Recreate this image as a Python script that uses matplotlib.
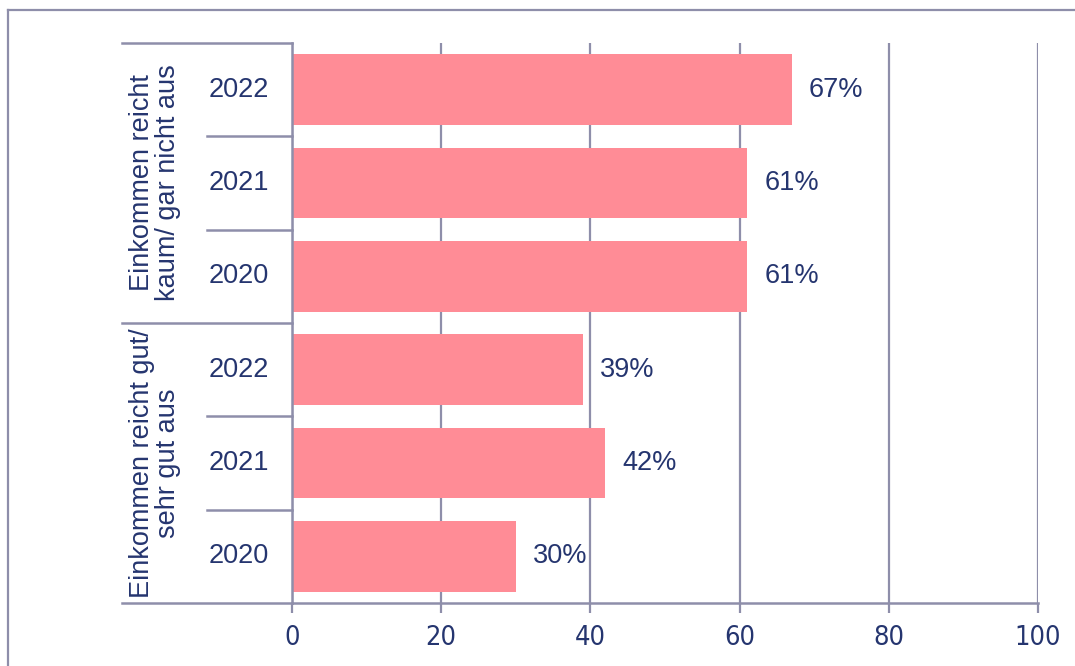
import matplotlib.pyplot as plt
from matplotlib import font_manager
from matplotlib.lines import Line2D

# data, top to bottom
groups = ["Einkommen reicht\nkaum/ gar nicht aus", "Einkommen reicht gut/\nsehr gut aus"]
years = ["2022", "2021", "2020", "2022", "2021", "2020"]
values = [67, 61, 61, 39, 42, 30]
ticks = [0, 20, 40, 60, 80, 100]

bar_col = "#FF8C96"
txt_col = "#25356F"
line_col = "#8E8EAA"

# a condensed face for the axis numbers, if one is installed
narrow = None
for f in font_manager.fontManager.ttflist:
    if "Narrow" in f.name or "Condensed" in f.name or f.stretch in ("condensed", "semi-condensed"):
        narrow = f
        break
if narrow is not None:
    tick_font = dict(family=narrow.name, stretch=narrow.stretch, fontsize=19.5)
else:
    tick_font = dict(family="Liberation Sans", fontsize=17)

plt.rcParams["font.family"] = ["Liberation Sans", "DejaVu Sans"]
fs = 19.5

fig = plt.figure(figsize=(10.75, 6.66), dpi=100)
ax = fig.add_axes([292 / 1075, 1 - 603 / 666, 746 / 1075, 560 / 666])

pos = list(range(len(values)))
ax.barh(pos, values, height=0.76, color=bar_col, zorder=3)
for p, v in zip(pos, values):
    ax.text(v + 2.3, p, f"{v}%", va="center", ha="left", fontsize=fs, color=txt_col, zorder=4)

ax.set_xlim(0, 100)
ax.set_ylim(5.5, -0.5)
ax.set_xticks(ticks)
ax.set_xticklabels([str(t) for t in ticks], color=txt_col, **tick_font)
ax.set_yticks([])
ax.tick_params(axis="x", length=7, width=1.6, color=line_col, pad=9)
ax.grid(axis="x", color=line_col, linewidth=1.6, zorder=0)
for s in ["top", "right"]:
    ax.spines[s].set_visible(False)
for s in ["left", "bottom"]:
    ax.spines[s].set_color(line_col)
    ax.spines[s].set_linewidth(1.8)
    ax.spines[s].set_zorder(5)

# category table on the left
tr = ax.get_yaxis_transform()
x_grp, x_yr = (122 - 292) / 746, (207 - 292) / 746
for i in range(len(years) + 1):
    y = i - 0.5
    x0 = x_grp if i % 3 == 0 else x_yr
    ax.add_line(Line2D([x0, 0], [y, y], transform=tr, color=line_col, lw=1.8, clip_on=False))
for p, yr in zip(pos, years):
    ax.text((239 - 292) / 746, p, yr, transform=tr, ha="center", va="center",
            fontsize=fs, color=txt_col)
for g, label in enumerate(groups):
    ax.text((155 - 292) / 746, 3 * g + 1, label, transform=tr, ha="center", va="center",
            rotation=90, fontsize=fs, color=txt_col, linespacing=1.0, multialignment="center")

# outer frame (left and top edges)
fig.add_artist(Line2D([8 / 1075, 8 / 1075], [0, 1 - 10 / 666], color=line_col, lw=1.6))
fig.add_artist(Line2D([8 / 1075, 1], [1 - 10 / 666, 1 - 10 / 666], color=line_col, lw=1.6))

fig.savefig("out.png", dpi=100)
